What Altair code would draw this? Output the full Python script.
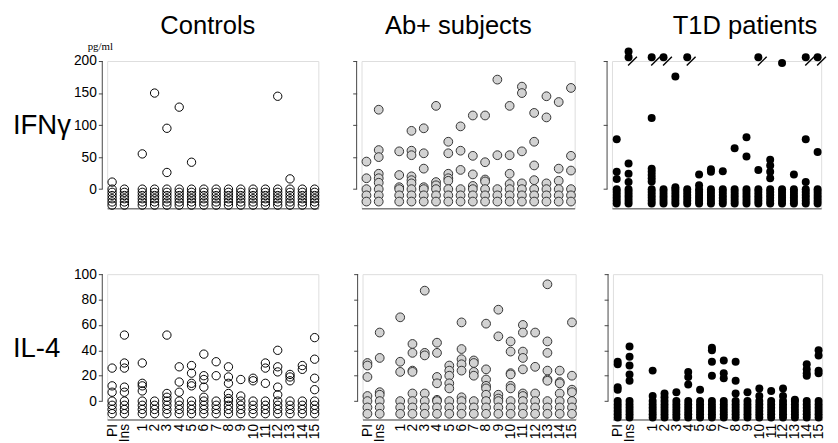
import altair as alt
import pandas as pd

COLS = ["PI", "Ins"] + [str(i) for i in range(1, 16)]

# ---------------- IFN-gamma (pg/ml): detected responses per stimulus ----------------
ctrl_ifn = [[11], [], [55], [150], [95, 26], [128], [42], [], [], [], [], [], [], [145], [16], [], []]
ctrl_ifn_nd = [6, 6, 6, 6, 6, 6, 6, 6, 6, 6, 6, 6, 6, 6, 6, 6, 6]

ab_ifn = [[43, 17], [124, 61, 50, 24, 17, 10], [59, 22, 3], [91, 60, 53, 20, 14, 9],
          [95, 56, 32, 3], [130, 11, 6], [74, 56, 24, 17, 13], [98, 60, 30],
          [115, 52, 23, 5], [115, 42, 15, 12], [171, 53], [130, 53, 24, 8],
          [160, 150, 59, 9], [119, 74, 37, 14], [145, 112, 9], [136, 32, 13], [158, 52, 29]]
ab_ifn_nd = [3, 3, 3, 3, 3, 3, 3, 3, 3, 3, 3, 3, 3, 3, 3, 3, 3]

t1d_ifn = [[78, 27, 16], [40, 24, 11], [111, 32, 27, 22, 17, 12], [], [176, 3], [], [23, 6],
           [31, 27], [28], [64], [81, 51], [30], [46, 37, 27, 17], [197], [23], [78, 11], [58]]
t1d_ifn_nd = [6, 6, 6, 6, 6, 6, 6, 6, 6, 6, 6, 6, 6, 6, 6, 6, 6]
t1d_ifn_over200 = [0, 2, 1, 1, 0, 1, 0, 0, 0, 0, 0, 1, 0, 0, 0, 1, 1]

# ---------------- IL-4 (pg/ml) ----------------
ctrl_il4 = [[26, 12, 7], [52, 30, 26, 11, 7], [30, 14, 12, 8], [], [52, 6, 3], [27, 15, 7],
            [28, 22, 14, 12], [37, 20, 17, 11, 3], [31, 20], [27, 19, 14, 6, 2], [17, 4],
            [18, 16], [30, 26, 14], [40, 27, 23, 11, 5], [21, 19, 16], [28, 25], [50, 33, 18, 9]]
ctrl_il4_nd = [4, 4, 4, 4, 4, 4, 4, 4, 4, 4, 4, 4, 4, 4, 4, 4, 4]

ab_il4 = [[30, 28, 19, 4], [54, 34, 7, 5], [66, 31, 23], [45, 38, 24, 23, 6], [87, 38, 36, 6],
          [46, 38, 19, 14, 1], [28, 24, 20, 14, 10], [62, 41, 33, 29, 24, 3], [32, 30, 23, 20],
          [61, 25, 17, 12, 10, 5], [72, 51, 5, 2], [47, 39, 22, 21, 12, 10],
          [60, 54, 39, 34, 25, 6, 4], [54, 27, 6], [92, 47, 38, 24, 17, 16], [24, 15, 14, 6],
          [62, 20, 9, 7]]
ab_il4_nd = [3, 3, 3, 3, 3, 3, 3, 3, 3, 3, 3, 3, 3, 3, 3, 3, 3]

t1d_il4 = [[31, 29, 11, 9], [43, 35, 28, 21, 16], [24, 4], [6, 3], [7], [23, 19, 13], [9],
           [42, 40, 31, 20], [32, 22, 18], [31, 16, 6], [7], [10, 4], [8], [10, 4], [1],
           [29, 25, 22, 20], [40, 36, 24, 22]]
t1d_il4_nd = [6, 6, 6, 6, 6, 6, 6, 6, 6, 6, 6, 6, 6, 6, 6, 6, 6]

FONT = "Liberation Sans"
AX = "#444444"


def make_df(det, nd, step, gap):
    rows = []
    for i, lab in enumerate(COLS):
        xpos = i if i < 2 else gap + (i - 2)
        for v in det[i]:
            rows.append({"x": xpos, "v": v, "stim": lab})
        for k in range(nd[i]):
            rows.append({"x": xpos, "v": -k * step, "stim": lab})
    return pd.DataFrame(rows)


def panel(det, nd, step, gap, unit, row, style, first, title=None, title_dx=0, over=None):
    xmax = gap + 14 + 0.3
    xscale = alt.Scale(domain=[-0.4, xmax], nice=False, zero=False)
    width = round((xmax + 0.4) * unit)
    if row == 0:
        ydom, yvals, ytop, height = [-30, 200], [0, 50, 100, 150, 200], 200, 150
    else:
        ydom, yvals, ytop, height = [-14.5, 100], [0, 20, 40, 60, 80, 100], 100, 148
    yscale = alt.Scale(domain=ydom, nice=False, zero=False)

    if row == 1:
        vals = [0, 1] + [round(gap + k, 3) for k in range(15)]
        xaxis = alt.Axis(values=vals, title=None, grid=False, ticks=False, domain=True,
                         domainColor=AX, labelAngle=-90, labelFont=FONT, labelFontSize=14,
                         labelColor="black", labelPadding=4, labelOverlap=False,
                         labelExpr=f"datum.value < 0.5 ? 'PI' : (datum.value < 1.5 ? 'Ins' : format(datum.value - {gap} + 1, '.0f'))")
    else:
        xaxis = alt.Axis(labels=False, ticks=False, domain=True, domainColor=AX, title=None, grid=False)

    def yaxis():
        return alt.Axis(values=yvals, title=None, grid=False, domain=False, ticks=True, tickSize=4,
                        tickColor=AX, offset=5, labels=first, labelFont=FONT, labelFontSize=14,
                        labelColor="black", labelPadding=2, labelOverlap=False)

    df = make_df(det, nd, step, gap)
    if style == "open":
        mark = alt.Chart(df).mark_point(shape="circle", filled=False, color="black",
                                        strokeWidth=1, size=72, opacity=1)
    elif style == "grey":
        mark = alt.Chart(df).mark_circle(fill="#d2d2d2", stroke="#333333", strokeWidth=1,
                                         size=80, opacity=1)
    else:
        mark = alt.Chart(df).mark_circle(color="black", size=66, opacity=1)
    pts = mark.encode(x=alt.X("x:Q", scale=xscale, axis=xaxis),
                      y=alt.Y("v:Q", scale=yscale, axis=yaxis()))

    yline = alt.Chart(pd.DataFrame({"a": [0]})).mark_rule(color=AX, strokeWidth=1).encode(
        x=alt.value(-5), y=alt.YDatum(0, axis=yaxis()), y2=alt.Y2Datum(ytop))
    layers = [pts, yline]

    if over is not None:
        orows, srows = [], []
        for i, c in enumerate(over):
            xpos = i if i < 2 else gap + (i - 2)
            for k in range(c):
                orows.append({"x": xpos, "v": 206 + 9 * k})
            if c:
                srows.append({"x": xpos, "v": 206})
        odf = pd.DataFrame(orows)
        sdf = pd.DataFrame(srows)
        layers.append(alt.Chart(odf).mark_circle(color="black", size=66, opacity=1).encode(
            x="x:Q", y="v:Q"))
        layers.append(alt.Chart(sdf).mark_point(shape="M -1 1 L 1 -1", filled=False, color="black",
                                                strokeWidth=1.4, size=81, opacity=1,
                                                xOffset=4, yOffset=4).encode(x="x:Q", y="v:Q"))

    if first:
        label = "IFNγ" if row == 0 else "IL-4"
        layers.append(alt.Chart(pd.DataFrame({"t": [label]})).mark_text(
            font=FONT, fontSize=28, align="left", baseline="alphabetic", color="black").encode(
            text="t:N", x=alt.value(-96), y=alt.value(74 if row == 0 else 84)))
        if row == 0:
            layers.append(alt.Chart(pd.DataFrame({"t": ["pg/ml"]})).mark_text(
                font="Liberation Serif", fontSize=11, align="center", baseline="alphabetic",
                color="black").encode(text="t:N", x=alt.value(-7), y=alt.value(-11)))

    if title is not None:
        layers.append(alt.Chart(pd.DataFrame({"t": [title]})).mark_text(
            font=FONT, fontSize=26, align="center", baseline="top", color="black").encode(
            text="t:N", x=alt.value(width / 2 + title_dx), y=alt.value(-49)))

    return alt.layer(*layers).properties(width=width, height=height)


GAPS = (2.45, 2.67, 2.95)
UNITS = (12.55, 12.52, 12.05)

top = alt.hconcat(
    panel(ctrl_ifn, ctrl_ifn_nd, 5, GAPS[0], UNITS[0], 0, "open", True, "Controls", -5),
    alt.hconcat(
        panel(ab_ifn, ab_ifn_nd, 9.7, GAPS[1], UNITS[1], 0, "grey", False, "Ab+ subjects", -10),
        panel(t1d_ifn, t1d_ifn_nd, 4.5, GAPS[2], UNITS[2], 0, "black", False, "T1D patients", 29,
              over=t1d_ifn_over200),
        spacing=24),
    spacing=31)

bottom = alt.hconcat(
    panel(ctrl_il4, ctrl_il4_nd, 3.3, GAPS[0], UNITS[0], 1, "open", True),
    alt.hconcat(
        panel(ab_il4, ab_il4_nd, 5, GAPS[1], UNITS[1], 1, "grey", False),
        panel(t1d_il4, t1d_il4_nd, 2.6, GAPS[2], UNITS[2], 1, "black", False),
        spacing=24),
    spacing=31)

chart = alt.vconcat(top, bottom, spacing=55).properties(
    padding={"left": 4, "top": 0, "right": 0, "bottom": 0}
).configure_view(stroke=None).configure(background="white")

chart.save("out.html", embed_options={"renderer": "svg", "actions": False})
